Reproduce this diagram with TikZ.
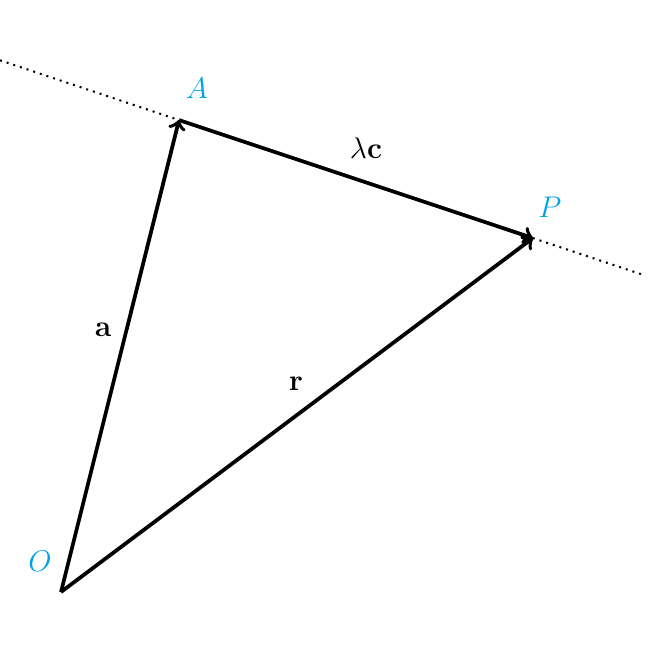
\documentclass[tikz,border=0pt]{standalone}
\usetikzlibrary{positioning}
\definecolor{ptblue}{RGB}{0,163,228}
\begin{document}
\begin{tikzpicture}[
      vec/.style={->, line width=1.5pt},
      pt/.style={text=ptblue, inner sep=1pt, font=\large},
      lab/.style={inner sep=1pt, font=\large}]
      \useasboundingbox (0,0) rectangle (9.2,9.2);
      % Points
      \coordinate (O) at (0.858,0.872);
      \coordinate (A) at (2.518,7.511);
      \coordinate (P) at (7.496,5.851);
      \coordinate (L1) at (0,8.352);
      \coordinate (L2) at (9.07,5.326);
      % Line through A and P
      \draw [dotted, thick] (L1) -- (A);
      \draw [dotted, thick] (P) -- (L2);
      % Vectors
      \draw [vec] (O) -- (A);
      \draw [vec] (A) -- (P);
      \draw [vec] (O) -- (P);
      % Labels
      \node (labO) [pt] at (0.563,1.308) {$O$};
      \node (labA) [pt] at (2.771,7.961) {$A$};
      \node (labP) [pt] at (7.736,6.287) {$P$};
      \node (laba) [lab] at (1.449,4.557) {$\mathbf{a}$};
      \node (labr) [lab] at (4.163,3.797) {$\mathbf{r}$};
      \node (labc) [lab] at (5.148,7.117) {$\lambda\mathbf{c}$};
    \end{tikzpicture}
\end{document}
